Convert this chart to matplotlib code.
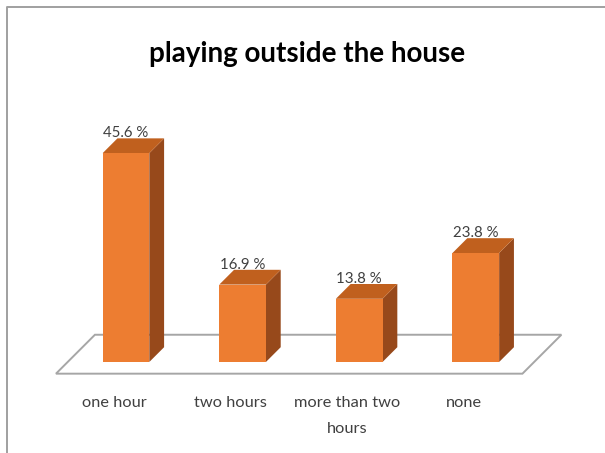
import matplotlib
matplotlib.use("Agg")
import matplotlib.pyplot as plt
from matplotlib.patches import Polygon
from matplotlib.lines import Line2D

# survey results
categories = ["one hour", "two hours", "more than two\nhours", "none"]
percentages = [45.6, 16.9, 13.8, 23.8]
value_labels = ["45.6 %", "16.9 %", "13.8 %", "23.8 %"]
title = "playing outside the house"

FRONT = "#ED7D31"
TOP = "#C0601E"
SIDE = "#97491B"
FLOOR_EDGE = "#A6A6A6"
TEXT = "#404040"
FONT = ["Lato", "DejaVu Sans"]

# oblique projection: one unit of depth moves DX categories right and DY percent up
DX, DY = 0.334, 8.5
FLOOR_Y0 = -2.55


def proj(x, depth, h=0.0):
    return (x + depth * DX, FLOOR_Y0 + depth * DY + h)


fig = plt.figure(figsize=(6.05, 4.53), dpi=100)
ax = fig.add_axes([0, 0, 1, 1])
ax.set_xlim(-0.48, 4.708)
ax.set_ylim(-19.87, 79.04)
ax.axis("off")

n = len(categories)

# floor
floor = Polygon([proj(0, 0), proj(n, 0), proj(n, 1), proj(0, 1)], closed=True,
                facecolor="white", edgecolor=FLOOR_EDGE, linewidth=1.4, zorder=1)
ax.add_patch(floor)

d0, d1 = 0.3, 0.68
for i, (v, lab) in enumerate(zip(percentages, value_labels)):
    x0, x1 = i + 0.3, i + 0.7
    front = [proj(x0, d0), proj(x1, d0), proj(x1, d0, v), proj(x0, d0, v)]
    side = [proj(x1, d0), proj(x1, d1), proj(x1, d1, v), proj(x1, d0, v)]
    top = [proj(x0, d0, v), proj(x1, d0, v), proj(x1, d1, v), proj(x0, d1, v)]
    ax.add_patch(Polygon(side, closed=True, facecolor=SIDE, edgecolor="none", zorder=2))
    ax.add_patch(Polygon(top, closed=True, facecolor=TOP, edgecolor="none", zorder=2))
    ax.add_patch(Polygon(front, closed=True, facecolor=FRONT, edgecolor="none", zorder=3))

    lx, _ = proj((x0 + x1) / 2, d0, v)
    ax.text(lx, proj(0, d1, v)[1] + 0.2, lab, ha="center", va="baseline",
            fontsize=10.8, color=TEXT, family=FONT, zorder=4)

for i, cat in enumerate(categories):
    ax.text(i + 0.5, -7.5, cat, ha="center", va="top", fontsize=11.8,
            color=TEXT, family=FONT, linespacing=2.1)

fig.text(0.507, 1 - 62 / 453, title, ha="center", va="baseline",
         fontsize=20, fontweight="bold", color="black", family=FONT)

# chart frame (only left and top edges fall inside the image)
bx, by = 7 / 605, 1 - 7 / 453
fig.add_artist(Line2D([bx, bx, 1.0], [0.0, by, by], color="#A0A0A0",
                      linewidth=1.4, transform=fig.transFigure))

fig.savefig("out.png", dpi=100)
